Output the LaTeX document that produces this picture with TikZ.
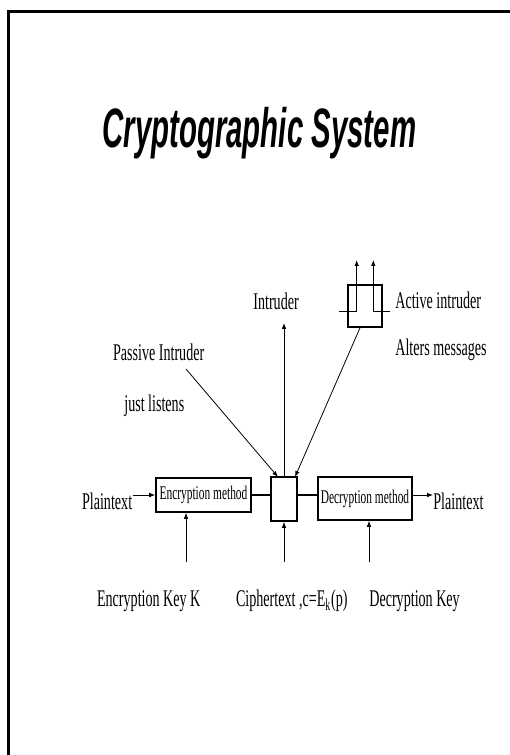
\documentclass[tikz,border=0pt]{standalone}
\usepackage{fontspec}
\setmainfont{Liberation Serif}[FakeStretch=0.59]
\newfontfamily\titlefont{Liberation Sans}[FakeStretch=0.53]
\usetikzlibrary{arrows.meta}
\newcommand{\Ek}{E\textsubscript{k}}

\begin{document}
\begin{tikzpicture}[x=0.02cm,y=-0.02cm,
    every node/.style={font=\fontsize{13.6}{16}\selectfont,inner sep=0pt},
    lbl/.style={anchor=base west},
    box/.style={draw,line width=0.9pt,font=\fontsize{11}{13}\selectfont},
    feed/.style={-{Latex[length=3.4pt,width=2.6pt]},line width=0.45pt},
    link/.style={line width=1pt}]
  \clip (0,0) rectangle (510,755);
  % ---- slide frame and title ----
  \draw[line width=1.3pt] (8.5,11.5) rectangle (540,790);
  \node[lbl,font=\titlefont\fontsize{31.6}{36}\selectfont\bfseries\itshape] (title) at (102,147) {Cryptographic System};
  % ---- the channel: boxes on one line ----
  \node[box,minimum width=1.9cm,minimum height=0.68cm] (enc) at (203.5,495) {Encryption method};
  \node[box,minimum width=0.52cm,minimum height=0.88cm] (ct) at (284,499) {};
  \node[box,minimum width=1.88cm,minimum height=0.86cm] (dec) at (365,498.5) {Decryption method};
  \node[lbl] (pin) at (81.7,509) {Plaintext};
  \node[lbl] (pout) at (433,509) {Plaintext};
  \draw[feed] (pin.east |- enc.west) -- (enc.west);
  \draw[link] (enc.east) -- (ct.west |- enc.east);
  \draw[link] (ct.east |- enc.east) -- (dec.west |- enc.east);
  \draw[feed] (dec.east |- enc.east) -- (pout.west |- enc.east);
  % ---- keys and ciphertext from below ----
  \node[lbl] (ekey) at (96.7,606.7) {Encryption Key K};
  \node[lbl] (ctext) at (235.7,606.7) {Ciphertext ,c=\Ek(p)};
  \node[lbl] (dkey) at (369,606.7) {Decryption Key};
  \coordinate (kE) at (186,562);
  \coordinate (kC) at (284,562);
  \coordinate (kD) at (369,562);
  \draw[feed] (kE) -- (kE |- enc.south);
  \draw[feed] (kC) -- (ct.south);
  \draw[feed] (kD) -- (kD |- dec.south);
  % ---- intruders above ----
  \node[lbl] (intr) at (253,309) {Intruder};
  \coordinate (itop) at (284,323);
  \draw[feed] (ct.north) -- (itop);
  \node[lbl] (pas) at (112.7,360) {Passive Intruder};
  \node[lbl] (listen) at (124,411) {just listens};
  \coordinate (pfoot) at (186,369);
  \coordinate (ptip) at (278,477);
  \draw[feed] (pfoot) -- (ptip);
  \node[box,minimum width=0.68cm,minimum height=0.84cm] (ab) at (365,306) {};
  \draw[feed] (339,311.7) -- (356.7,311.7) -- (356.7,260);
  \draw[feed] (390,311.7) -- (373.3,311.7) -- (373.3,260);
  \node[lbl] (act) at (395,308) {Active intruder};
  \node[lbl] (alt) at (395,355) {Alters messages};
  \coordinate (atip) at (295,477);
  \draw[feed] ([xshift=-0.1cm]ab.south) -- (atip);
\end{tikzpicture}
\end{document}
